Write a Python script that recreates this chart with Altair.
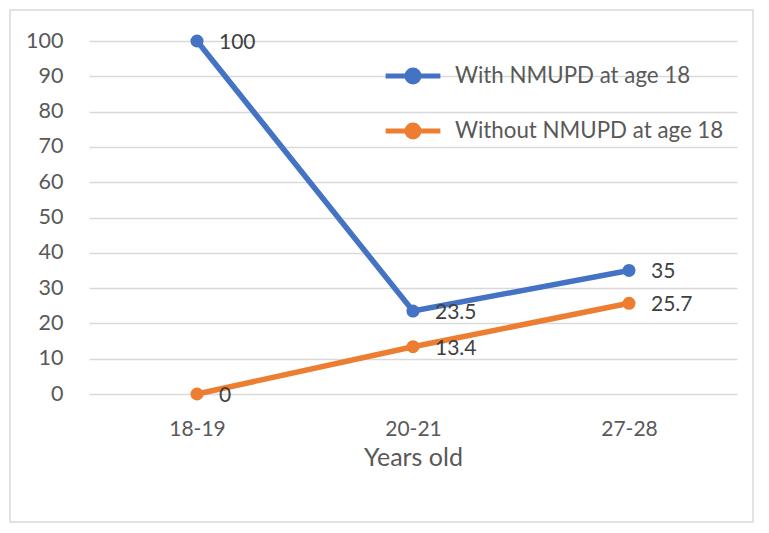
import altair as alt
import pandas as pd

ages = ["18-19", "20-21", "27-28"]
with_nmupd = [100, 23.5, 35]
without_nmupd = [0, 13.4, 25.7]
series = ["With NMUPD at age 18", "Without NMUPD at age 18"]
colors = ["#4472C4", "#ED7D31"]

df = pd.DataFrame({
    "age": ages * 2,
    "value": with_nmupd + without_nmupd,
    "series": [series[0]] * 3 + [series[1]] * 3,
})

FONT = "Lato"
TXT = "#595959"

x = alt.X("age:N", sort=ages, title="Years old",
          scale=alt.Scale(paddingInner=0, paddingOuter=0),
          axis=alt.Axis(labelAngle=0, domain=False, ticks=False, labelPadding=24,
                        titlePadding=6, labelFontSize=21, titleFontSize=25))
y = alt.Y("value:Q", title=None, scale=alt.Scale(domain=[0, 100]),
          axis=alt.Axis(values=list(range(0, 101, 10)), domain=False, ticks=False,
                        labelPadding=26, gridColor="#d9d9d9", gridWidth=1.5,
                        labelFontSize=21.5))

# line with a dot in the middle, in a -1..1 unit box
legend_path = ("M-1,0L1,0M0.22,0A0.22,0.22 0 1 1 -0.22,0"
               "A0.22,0.22 0 1 1 0.22,0Z")

color = alt.Color("series:N", sort=series,
                  scale=alt.Scale(domain=series, range=colors),
                  legend=alt.Legend(title=None, orient="none", legendX=294, legendY=5,
                                    symbolType=legend_path, symbolSize=3000,
                                    symbolStrokeWidth=5, labelOffset=12,
                                    rowPadding=8, labelFontSize=22.3, labelLimit=0,
                                    labelColor=TXT, labelFont=FONT))

base = alt.Chart(df).encode(x=x, y=y)

lines = base.mark_line(strokeWidth=5.5, point=alt.OverlayMarkDef(size=170, filled=True)).encode(
    color=color)
labels = base.mark_text(align="left", dx=22, dy=2, fontSize=21, font=FONT,
                        color="#404040").encode(text=alt.Text("value:Q"))

frame = alt.Chart(pd.DataFrame({"a": [0]})).mark_rect(
    fill=None, stroke="#d9d9d9", strokeWidth=1.5
).encode(x=alt.value(-79), x2=alt.value(664), y=alt.value(-31), y2=alt.value(481))

chart = alt.layer(frame, lines, labels).properties(
    width=648, height=353,
    autosize=alt.AutoSizeParams(type="none"),
    padding={"left": 81, "top": 33, "right": 20, "bottom": 130},
    background="white",
).configure_view(stroke=None).configure_axis(
    labelFont=FONT, labelColor=TXT,
    titleFont=FONT, titleColor=TXT, titleFontWeight="normal",
)

chart.save("out.html", embed_options={"renderer": "svg", "actions": False})
